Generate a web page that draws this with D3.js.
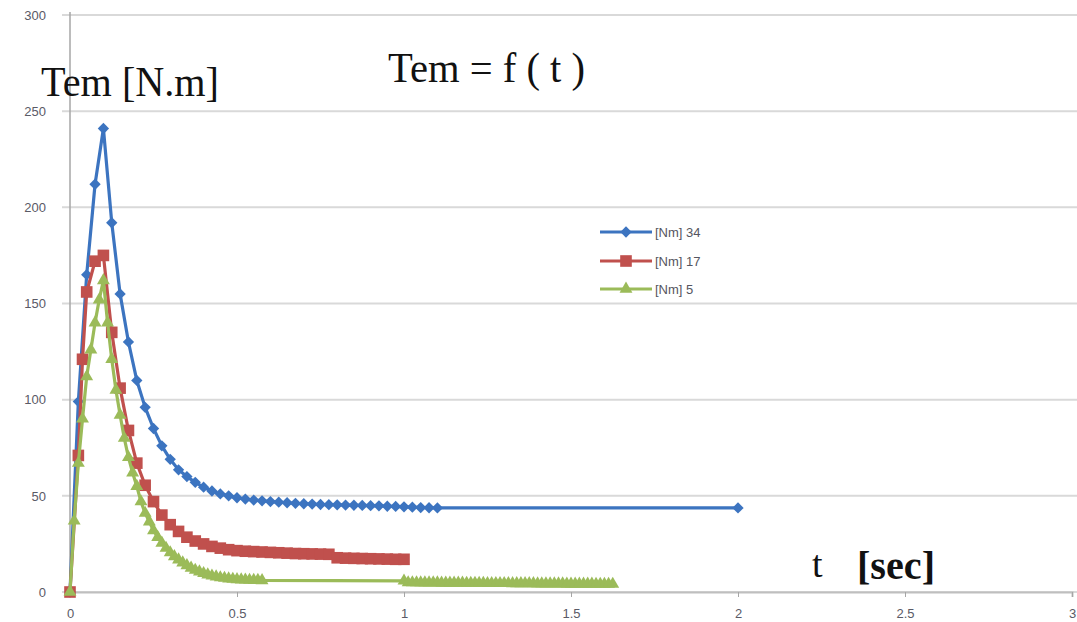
<!DOCTYPE html>
<html>
<head>
<meta charset="utf-8">
<script src="https://cdn.jsdelivr.net/npm/d3@7"></script>
<style>
  html, body { margin: 0; padding: 0; background: #fff; }
  svg { display: block; }
</style>
</head>
<body>
<script>
// Tem = f(t) for three load torques
const tBlue = [0, 0.025, 0.05, 0.075, 0.1, 0.125, 0.15, 0.175, 0.2, 0.225, 0.25, 0.275, 0.3, 0.325, 0.35,
  0.375, 0.4, 0.425, 0.45, 0.475, 0.5, 0.525, 0.55, 0.575, 0.6, 0.625, 0.65, 0.675, 0.7, 0.725, 0.75,
  0.775, 0.8, 0.825, 0.85, 0.875, 0.9, 0.925, 0.95, 0.975, 1, 1.025, 1.05, 1.075, 1.1, 2];
const temBlue = [0, 99, 165, 212, 241, 192, 155, 130, 110, 96, 85, 76, 69, 63.5, 60,
  57, 54.5, 52.5, 51, 50, 49, 48.3, 47.8, 47.4, 47, 46.7, 46.4, 46.1, 45.9, 45.7, 45.5,
  45.4, 45.3, 45.2, 45.1, 45, 44.9, 44.8, 44.6, 44.5, 44.3, 44.1, 43.9, 43.8, 43.7, 43.7];

const tRed = [0, 0.025, 0.0375, 0.05, 0.075, 0.1, 0.125, 0.15, 0.175, 0.2, 0.225, 0.25, 0.275, 0.3,
  0.325, 0.35, 0.375, 0.4, 0.425, 0.45, 0.475, 0.5, 0.525, 0.55, 0.575, 0.6, 0.625, 0.65, 0.675,
  0.7, 0.725, 0.75, 0.775, 0.8, 0.825, 0.85, 0.875, 0.9, 0.925, 0.95, 0.975, 1];
const temRed = [0, 71, 121, 156, 172, 175, 135, 106, 84, 67, 55.5, 47, 40, 35,
  31.5, 28.5, 26.5, 25, 23.7, 22.8, 22, 21.5, 21.2, 21, 20.8, 20.6, 20.4, 20.2, 20,
  19.9, 19.8, 19.7, 19.6, 17.8, 17.6, 17.5, 17.4, 17.3, 17.2, 17.1, 17, 17];

const tGreen = [0, 0.0125, 0.025, 0.0375, 0.05, 0.0625, 0.075, 0.0875, 0.1, 0.1125, 0.125, 0.1375,
  0.15, 0.1625, 0.175, 0.1875, 0.2, 0.2125, 0.225, 0.2375, 0.25, 0.2625, 0.275, 0.2875, 0.3, 0.3125,
  0.325, 0.3375, 0.35, 0.3625, 0.375, 0.3875, 0.4, 0.4125, 0.425, 0.4375, 0.45, 0.4625, 0.475,
  0.4875, 0.5, 0.5125, 0.525, 0.5375, 0.55, 0.5625, 0.575,
  1, 1.0125, 1.025, 1.0375, 1.05, 1.0625, 1.075, 1.0875, 1.1, 1.1125, 1.125, 1.1375, 1.15, 1.1625,
  1.175, 1.1875, 1.2, 1.2125, 1.225, 1.2375, 1.25, 1.2625, 1.275, 1.2875, 1.3, 1.3125, 1.325, 1.3375,
  1.35, 1.3625, 1.375, 1.3875, 1.4, 1.4125, 1.425, 1.4375, 1.45, 1.4625, 1.475, 1.4875, 1.5, 1.5125,
  1.525, 1.5375, 1.55, 1.5625, 1.575, 1.5875, 1.6, 1.6125, 1.625];
const temGreen = [0, 37, 67, 90, 112, 126, 140, 152, 162, 140, 121, 105,
  92, 80, 70, 62, 55, 47, 41, 36.5, 32, 28.5, 25.5, 22.8, 20.5, 18.5,
  16.8, 15.2, 13.8, 12.5, 11.4, 10.5, 9.7, 9, 8.4, 7.9, 7.5, 7.2, 6.9,
  6.7, 6.5, 6.4, 6.3, 6.2, 6.1, 6.1, 6,
  5.8, 4.9, 4.9, 4.9, 4.8, 4.8, 4.8, 4.8, 4.8, 4.7, 4.7, 4.7, 4.7, 4.7,
  4.7, 4.6, 4.6, 4.6, 4.6, 4.6, 4.5, 4.5, 4.5, 4.5, 4.5, 4.5, 4.4, 4.4,
  4.4, 4.4, 4.4, 4.4, 4.3, 4.3, 4.3, 4.3, 4.3, 4.3, 4.3, 4.2, 4.2, 4.2,
  4.2, 4.2, 4.2, 4.2, 4.1, 4.1, 4.1, 4.1, 4.1];

const seriesNames = ['[Nm] 34', '[Nm] 17', '[Nm] 5'];
const xTicks = [0, 0.5, 1, 1.5, 2, 2.5, 3];
const yTicks = [0, 50, 100, 150, 200, 250, 300];

const width = 1077;
const height = 622;

const series = [
  { name: seriesNames[0], color: '#3c74c0', symbol: 'diamond', points: tBlue.map((t, i) => [t, temBlue[i]]) },
  { name: seriesNames[1], color: '#c0504d', symbol: 'square', points: tRed.map((t, i) => [t, temRed[i]]) },
  { name: seriesNames[2], color: '#9bbb59', symbol: 'triangle', points: tGreen.map((t, i) => [t, temGreen[i]]) }
];

const x = d3.scaleLinear().domain([0, 3]).range([70, 1072]);
const y = d3.scaleLinear().domain([0, 300]).range([592, 15]);

const svg = d3.select('body').append('svg')
  .attr('width', width)
  .attr('height', height);

// horizontal grid
svg.append('g')
  .attr('class', 'grid')
  .selectAll('line')
  .data(yTicks)
  .enter().append('line')
  .attr('x1', 62)
  .attr('x2', width)
  .attr('y1', d => y(d))
  .attr('y2', d => y(d))
  .attr('stroke', '#d9d9d9')
  .attr('stroke-width', 2);

// y axis
const yAxis = svg.append('g')
  .attr('transform', 'translate(70,0)')
  .call(d3.axisLeft(y).tickValues(yTicks).tickSize(0).tickPadding(24));
yAxis.select('.domain')
  .attr('d', 'M0,12V' + y(0))
  .attr('stroke', '#a6a6a6')
  .attr('stroke-width', 1.5);

// x axis
const xAxis = svg.append('g')
  .attr('transform', 'translate(0,' + y(0) + ')')
  .call(d3.axisBottom(x).tickValues(xTicks).tickSize(5).tickPadding(12)
    .tickFormat(d3.format('')));
xAxis.select('.domain')
  .attr('stroke', '#bfbfbf')
  .attr('stroke-width', 2);
xAxis.selectAll('.tick line').attr('stroke', '#a6a6a6');

svg.selectAll('.tick text')
  .attr('font-family', 'Liberation Sans, Arial, sans-serif')
  .attr('font-size', 13)
  .attr('fill', '#5a5a66');

const symbols = {
  diamond: d3.symbol().type(d3.symbolSquare).size(64),
  square: d3.symbol().type(d3.symbolSquare).size(135),
  triangle: d3.symbol().type(d3.symbolTriangle).size(72)
};
const symbolRotate = { diamond: 45, square: 0, triangle: 0 };

const line = d3.line()
  .x(d => x(d[0]))
  .y(d => y(d[1]));

const plot = svg.append('g').attr('class', 'series');

series.forEach(s => {
  const g = plot.append('g');

  g.append('path')
    .datum(s.points)
    .attr('fill', 'none')
    .attr('stroke', s.color)
    .attr('stroke-width', 3.2)
    .attr('stroke-linejoin', 'round')
    .attr('d', line);

  g.selectAll('path.marker')
    .data(s.points)
    .enter().append('path')
    .attr('class', 'marker')
    .attr('d', symbols[s.symbol])
    .attr('fill', s.color)
    .attr('transform', d =>
      'translate(' + x(d[0]) + ',' + y(d[1]) + ') rotate(' + symbolRotate[s.symbol] + ')'
    );
});

// legend
const legend = svg.append('g')
  .attr('class', 'legend')
  .selectAll('g')
  .data(series)
  .enter().append('g')
  .attr('transform', (d, i) => 'translate(600,' + [232, 261, 289][i] + ')');

legend.append('line')
  .attr('x1', 0)
  .attr('x2', 52)
  .attr('stroke', d => d.color)
  .attr('stroke-width', 3);

legend.append('path')
  .attr('d', d => symbols[d.symbol]())
  .attr('fill', d => d.color)
  .attr('transform', d => 'translate(26,0) rotate(' + symbolRotate[d.symbol] + ')');

legend.append('text')
  .attr('x', 55)
  .attr('dy', '0.35em')
  .attr('font-family', 'Liberation Sans, Arial, sans-serif')
  .attr('font-size', 13)
  .attr('fill', '#555560')
  .text(d => d.name);

// titles
const serif = 'Liberation Serif, Times New Roman, serif';

svg.append('text')
  .attr('x', 41)
  .attr('y', 96)
  .attr('font-family', serif)
  .attr('font-size', 42)
  .attr('textLength', 178)
  .attr('lengthAdjust', 'spacingAndGlyphs')
  .attr('fill', '#111')
  .text('Tem [N.m]');

svg.append('text')
  .attr('x', 388)
  .attr('y', 82)
  .attr('font-family', serif)
  .attr('font-size', 42)
  .attr('textLength', 197)
  .attr('lengthAdjust', 'spacingAndGlyphs')
  .attr('fill', '#111')
  .text('Tem = f ( t )');

svg.append('text')
  .attr('x', 812)
  .attr('y', 577)
  .attr('font-family', serif)
  .attr('font-size', 38)
  .attr('fill', '#111')
  .text('t');

svg.append('text')
  .attr('x', 857)
  .attr('y', 579)
  .attr('font-family', serif)
  .attr('font-weight', 'bold')
  .attr('font-size', 40)
  .attr('textLength', 78)
  .attr('lengthAdjust', 'spacingAndGlyphs')
  .attr('fill', '#111')
  .text('[sec]');
</script>
</body>
</html>
